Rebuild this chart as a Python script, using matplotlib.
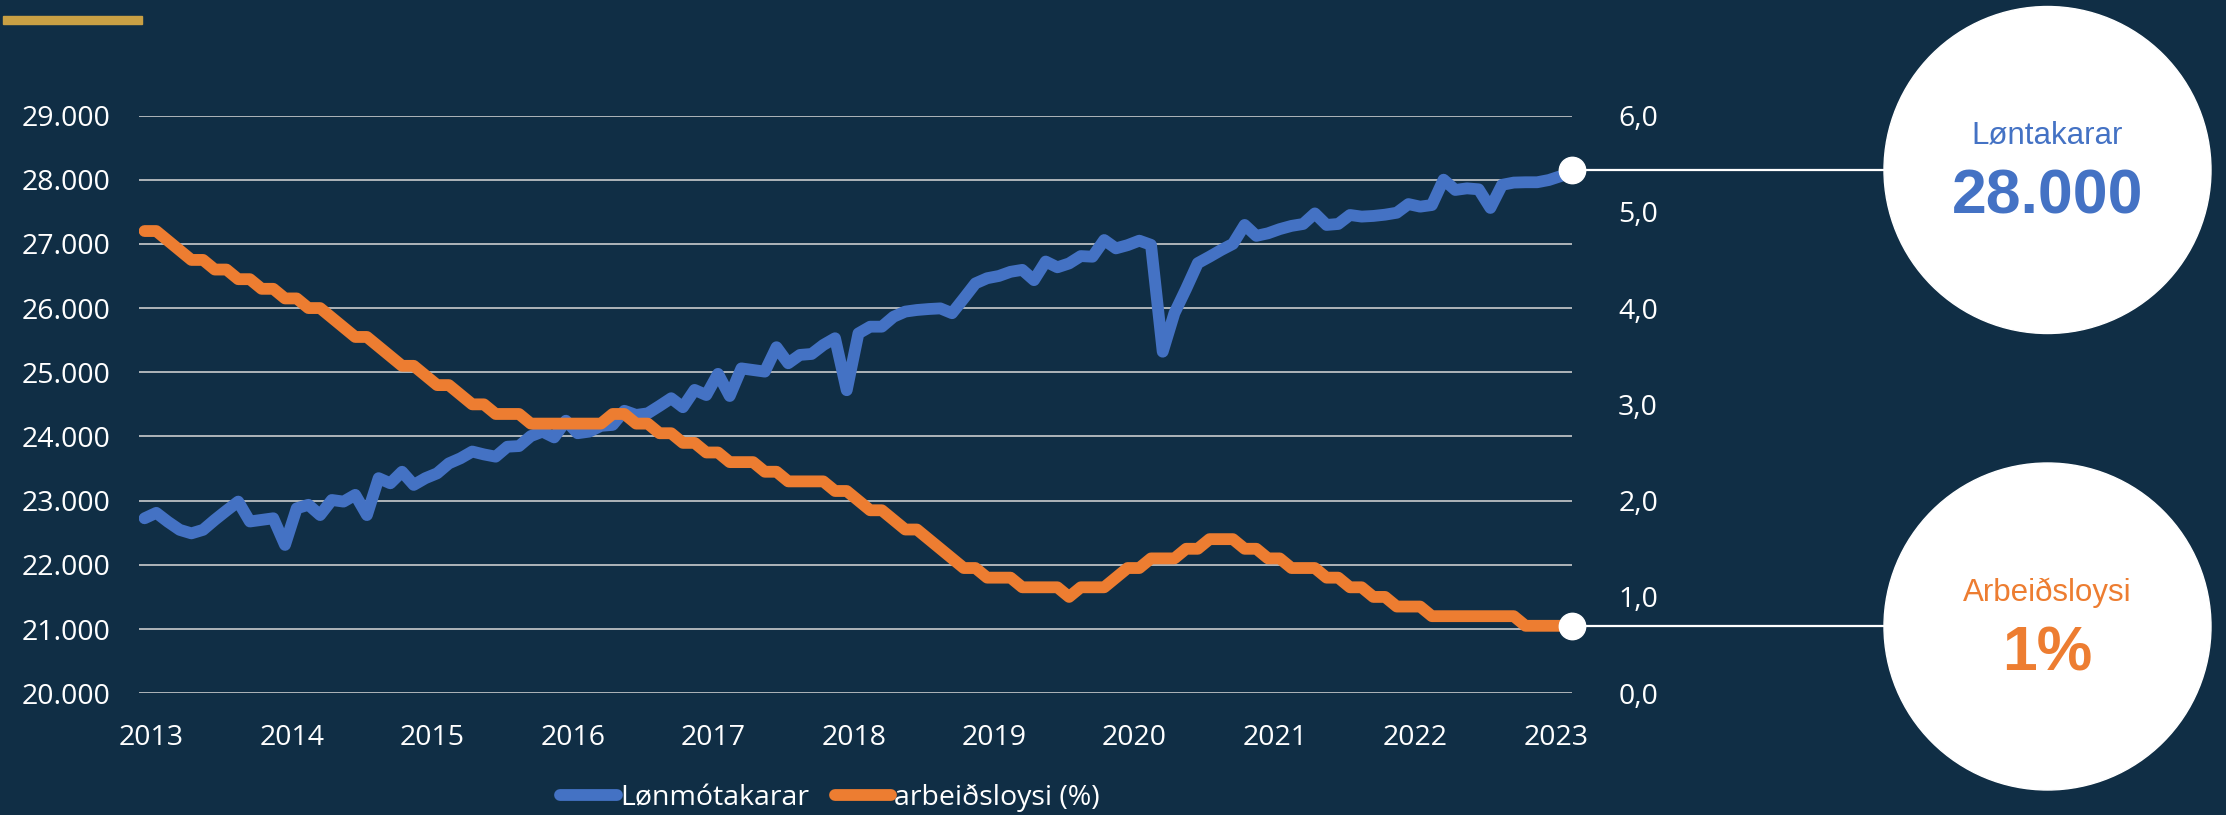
"""Løntakarar og arbeiðsloysi 2013-2023 -> out.png"""
import matplotlib
matplotlib.use("Agg")
import matplotlib.pyplot as plt
import matplotlib.transforms as mtransforms
from matplotlib.lines import Line2D
from matplotlib.patches import Ellipse, Rectangle

W, H = 2226, 815
BG = "#102E45"
BLUE = "#4472C4"
ORANGE = "#ED7D31"
GOLD = "#C9A044"
GRID = "#D9D9D9"

years = [str(y) for y in range(2013, 2024)]

# monthly, Jan 2013 - Mar 2023
lontakarar = [
    22725, 22810, 22670, 22545, 22490, 22545, 22700, 22845, 22985, 22675, 22700, 22725,
    22310, 22880, 22935, 22775, 23010, 22985, 23090, 22775, 23350, 23270, 23450, 23245,
    23350, 23425, 23580, 23660, 23765, 23720, 23685, 23840, 23850, 24005, 24075, 23985,
    24245, 24050, 24075, 24165, 24180, 24400, 24335, 24360, 24475, 24595, 24455, 24725,
    24645, 24975, 24630, 25060, 25035, 25010, 25390, 25140, 25270, 25285, 25425, 25530,
    24720, 25605, 25710, 25710, 25865, 25945, 25970, 25985, 25995, 25920, 26150, 26385,
    26465, 26500, 26565, 26595, 26435, 26725, 26635, 26695, 26810, 26800, 27060, 26930,
    26980, 27050, 26985, 25320, 25920, 26300, 26700, 26800, 26905, 27000, 27295, 27125,
    27165, 27230, 27280, 27310, 27475, 27295, 27310, 27450, 27425, 27435, 27455, 27485,
    27620, 27580, 27605, 28000, 27840, 27865, 27850, 27560, 27920, 27955, 27960, 27960,
    27995, 28055, 28150,
]
arbeidsloysi = [
    4.8, 4.8, 4.7, 4.6, 4.5, 4.5, 4.4, 4.4, 4.3, 4.3, 4.2, 4.2,
    4.1, 4.1, 4.0, 4.0, 3.9, 3.8, 3.7, 3.7, 3.6, 3.5, 3.4, 3.4,
    3.3, 3.2, 3.2, 3.1, 3.0, 3.0, 2.9, 2.9, 2.9, 2.8, 2.8, 2.8,
    2.8, 2.8, 2.8, 2.8, 2.9, 2.9, 2.8, 2.8, 2.7, 2.7, 2.6, 2.6,
    2.5, 2.5, 2.4, 2.4, 2.4, 2.3, 2.3, 2.2, 2.2, 2.2, 2.2, 2.1,
    2.1, 2.0, 1.9, 1.9, 1.8, 1.7, 1.7, 1.6, 1.5, 1.4, 1.3, 1.3,
    1.2, 1.2, 1.2, 1.1, 1.1, 1.1, 1.1, 1.0, 1.1, 1.1, 1.1, 1.2,
    1.3, 1.3, 1.4, 1.4, 1.4, 1.5, 1.5, 1.6, 1.6, 1.6, 1.5, 1.5,
    1.4, 1.4, 1.3, 1.3, 1.3, 1.2, 1.2, 1.1, 1.1, 1.0, 1.0, 0.9,
    0.9, 0.9, 0.8, 0.8, 0.8, 0.8, 0.8, 0.8, 0.8, 0.8, 0.7, 0.7,
    0.7, 0.7, 0.7,
]
left_ticks = list(range(20000, 29001, 1000))
right_ticks = [0, 1, 2, 3, 4, 5, 6]
series_labels = ["Lønmótakarar", "arbeiðsloysi (%)"]
bubble_titles = ["Løntakarar", "Arbeiðsloysi"]
bubble_values = ["28.000", "1%"]

TICK_FONT = "Open Sans"
BUBBLE_FONT = "Liberation Sans"


def fx(x):
    return x / W


def fy(y):
    return 1 - y / H


fig = plt.figure(figsize=(W / 100, H / 100), dpi=100, facecolor=BG)
ax = fig.add_axes([fx(139.3), fy(693.2), fx(1572.3) - fx(139.3), fy(115.5) - fy(693.2)])
ax.set_facecolor(BG)
ax2 = ax.twinx()

x = list(range(len(lontakarar)))
line_kw = dict(lw=8.5, solid_capstyle="round", solid_joinstyle="round")
ax.plot(x, lontakarar, color=BLUE, **line_kw)
ax2.plot(x, arbeidsloysi, color=ORANGE, **line_kw)
ax.plot(x[-1], lontakarar[-1], "o", ms=19, color="white", clip_on=False, zorder=6)
ax2.plot(x[-1], arbeidsloysi[-1], "o", ms=19, color="white", clip_on=False, zorder=6)

ax.set_xlim(-0.45, len(x) - 1)
ax.set_ylim(20000, 29000)
ax2.set_ylim(0, 6)
ax.set_yticks(left_ticks)
ax.set_yticklabels([f"{v:,}".replace(",", ".") for v in left_ticks])
ax2.set_yticks(right_ticks)
ax2.set_yticklabels([f"{v:.1f}".replace(".", ",") for v in right_ticks])
ax.set_xticks([0.6 + 12 * k for k in range(len(years))])
ax.set_xticklabels(years)

ax.yaxis.grid(True, color=GRID, lw=1.1)
ax.set_axisbelow(True)
for a in (ax, ax2):
    for s in a.spines.values():
        s.set_visible(False)
ax.tick_params(axis="y", length=0, pad=21, labelsize=20.5, labelcolor="white")
ax.tick_params(axis="x", length=0, pad=22, labelsize=20.5, labelcolor="white")
ax2.tick_params(axis="y", length=0, pad=33, labelsize=20.5, labelcolor="white")
for lab in ax.get_xticklabels() + ax.get_yticklabels() + ax2.get_yticklabels():
    lab.set_fontfamily(TICK_FONT)

# connectors from the last points to the bubbles
for a, vals in ((ax, lontakarar), (ax2, arbeidsloysi)):
    tr = mtransforms.blended_transform_factory(fig.transFigure, a.transData)
    fig.add_artist(Line2D([fx(1572), fx(1890)], [vals[-1], vals[-1]], transform=tr,
                          color="white", lw=1.6, zorder=1))

# bubbles
r = 163.5
for cy, title, value, col in ((170, bubble_titles[0], bubble_values[0], BLUE),
                              (626.5, bubble_titles[1], bubble_values[1], ORANGE)):
    fig.add_artist(Ellipse((fx(2047.5), fy(cy)), 2 * r / W, 2 * r / H,
                           transform=fig.transFigure, color="white", zorder=2))
    fig.text(fx(2047.5), fy(cy - 26), title, ha="center", va="baseline",
             fontsize=22.5, family=BUBBLE_FONT, color=col, zorder=3)
    fig.text(fx(2047.5), fy(cy + 44), value, ha="center", va="baseline",
             fontsize=45, fontweight="bold", family=BUBBLE_FONT, color=col, zorder=3)

# gold accent bar
fig.add_artist(Rectangle((fx(3), fy(24)), fx(142) - fx(3), fy(15.7) - fy(24),
                         transform=fig.transFigure, color=GOLD))

handles = [Line2D([], [], color=BLUE, lw=8.5, solid_capstyle="round"),
           Line2D([], [], color=ORANGE, lw=8.5, solid_capstyle="round")]
fig.legend(handles, series_labels, loc="center", bbox_to_anchor=(fx(830), fy(798)),
           ncol=2, frameon=False, handlelength=2.0, handletextpad=0.1,
           columnspacing=0.9, labelcolor="white",
           prop={"family": TICK_FONT, "size": 20.5})

fig.savefig("out.png", dpi=100, facecolor=BG)
